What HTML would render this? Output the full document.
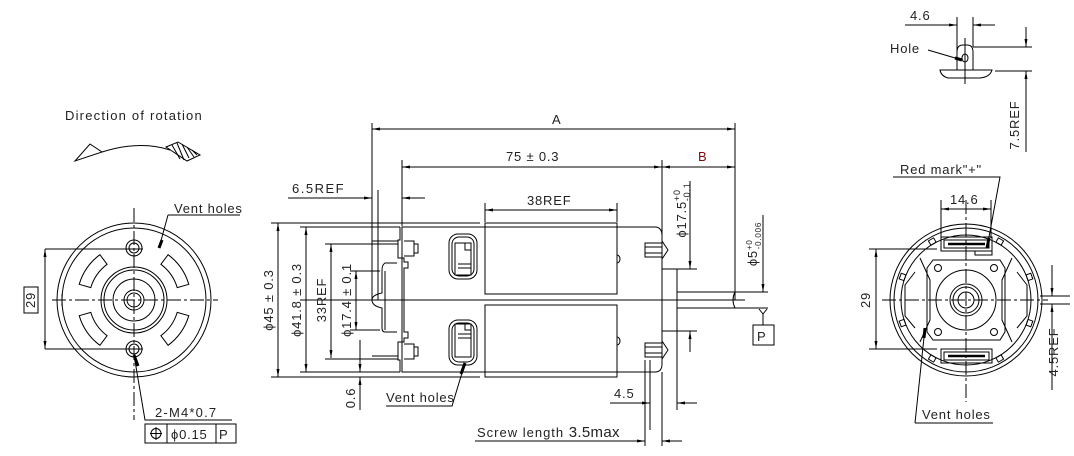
<!DOCTYPE html>
<html><head><meta charset="utf-8"><style>
html,body{margin:0;padding:0;background:#fff;}
svg{display:block;}
text{font-family:"Liberation Sans",sans-serif;fill:#222;font-size:13px;letter-spacing:0.8px;}
</style></head><body>
<svg width="1074" height="456" viewBox="0 0 1074 456" xmlns="http://www.w3.org/2000/svg">
<defs>
<marker id="a" markerWidth="8" markerHeight="4" refX="8" refY="2" orient="auto" markerUnits="userSpaceOnUse"><path d="M0,0.5 L8,2 L0,3.5Z" fill="#000"/></marker>
<marker id="b" markerWidth="8" markerHeight="4" refX="0" refY="2" orient="auto" markerUnits="userSpaceOnUse"><path d="M8,0.5 L0,2 L8,3.5Z" fill="#000"/></marker>
</defs>
<g stroke="#000" stroke-width="1" fill="none">
<path d="M75,161 L90,144 L102,152 Z"/>
<path d="M102,152 Q140,140 170,150"/>
<path d="M166,147 L178,142 L200,155 L187,161 Z"/>
<path d="M172,145 L180,159 M177,143 L184,160 M182,144 L189,158 M187,147 L194,157 M192,150 L197,155"/>

<circle cx="134" cy="300" r="77"/>
<circle cx="134" cy="300" r="72"/>
<circle cx="134" cy="300" r="33"/>
<circle cx="134" cy="300" r="30"/>
<circle cx="134" cy="300" r="21"/>
<circle cx="134" cy="300" r="10"/>
<circle cx="134" cy="300" r="7"/>
<circle cx="134" cy="248" r="8"/><circle cx="134" cy="248" r="5"/>
<circle cx="134" cy="349" r="8"/><circle cx="134" cy="349" r="5"/>
<g transform="translate(134,300)">
<path id="slot" d="M26.9,-35.7 A45,45 0 0 1 43.2,-12.4 L54.8,-15.7 A57,57 0 0 0 34.1,-45.3 Z"/>
<use href="#slot" transform="scale(-1,1)"/>
<use href="#slot" transform="scale(1,-1)"/>
<use href="#slot" transform="scale(-1,-1)"/>
</g>
<path d="M134,208 V420 M52,300 H218" stroke-dasharray="14,3,3,3"/>
<path d="M62,294 V306" />
<path d="M45,249 H143 M45,349 H143"/>
<path d="M45,249 V349" marker-start="url(#b)" marker-end="url(#a)"/>
<rect x="24" y="287" width="14" height="26"/>
<path d="M134,355 L145,420 H232"/>
<path d="M134,355 L138,366" stroke-width="3"/>
<rect x="145" y="424" width="91" height="19"/>
<path d="M167,424 V443 M216,424 V443"/>
<circle cx="156" cy="433.5" r="5"/><path d="M150,433.5 H162 M156,427 V440"/>
<path d="M168,215 H240 M168,215 L159,248"/>
<path d="M159,248 L162,240" stroke-width="3"/>

<path d="M372,123 V300 M735,123 V300 M402,160 V226 M662,160 V240 M378,190 V300"/>
<path d="M372,129 H735" marker-start="url(#b)" marker-end="url(#a)"/>
<path d="M402,167 H662" marker-start="url(#b)" marker-end="url(#a)"/>
<path d="M662,167 H735" marker-start="url(#b)" marker-end="url(#a)"/>
<path d="M288,198 H372" marker-end="url(#a)"/>
<path d="M425,198 H402" marker-end="url(#a)"/>
<path d="M485,203 V222 M617,203 V222"/>
<path d="M485,210 H617" marker-start="url(#b)" marker-end="url(#a)"/>
<path d="M271,223 H480 M271,377 H480 M300,227 H400 M300,372 H400 M325,244 H398 M325,359 H398 M350,271 H380 M350,330 H380"/>
<path d="M278,223 V377" marker-start="url(#b)" marker-end="url(#a)"/>
<path d="M306,227 V372" marker-start="url(#b)" marker-end="url(#a)"/>
<path d="M331,244 V358" marker-start="url(#b)" marker-end="url(#a)"/>
<path d="M356,271 V330" marker-start="url(#b)" marker-end="url(#a)"/>
<path d="M360,340 V372" marker-end="url(#a)"/>
<path d="M360,410 V377" marker-end="url(#a)"/>
<path d="M402,227 H655 Q662,227 662,236 V364 Q662,372 655,372 H402 Z"/>
<rect x="485" y="223" width="132" height="71"/>
<rect x="485" y="305" width="132" height="72"/>
<path d="M617,255 a3,4 0 0 1 0,8 M617,337 a3,4 0 0 1 0,8"/>
<path d="M400,227 V240 H398 V258 H404 V262 H408 V268 H404 V332 H408 V338 H404 V342 H398 V360 H400 V372"/>
<path d="M404,241 H414 V256 H404 M404,344 H414 V359 H404"/>
<path d="M414,244 H418 V253 H414 M414,347 H418 V356 H414"/>
<path d="M372,241 H398 M372,359 H398 M372,244 H398 M372,356 H398"/>
<path d="M397,263 H385 Q382,265 382,270 V293 Q372,295 372,300 Q372,306 382,308 V328 Q382,332 385,332 H397"/>
<path d="M385,271 V330"/>
<rect x="449" y="234" width="28" height="45" rx="9"/>
<rect x="452" y="237" width="22" height="39" rx="7"/>
<path d="M455,243 H471 V275 H455 Z M465,243 V250 H471 M458,264 H471 M458,268 H471"/>
<rect x="449" y="320" width="28" height="45" rx="9"/>
<rect x="452" y="323" width="22" height="39" rx="7"/>
<path d="M455,324 H471 V357 H455 Z M465,324 V330 H471 M458,334 H471 M458,338 H471"/>
<path d="M645,243 H662 V257 H645 Z M645,247 H662 M645,253 H662 M662,241 L668,250 L662,259"/>
<path d="M645,343 H662 V357 H645 Z M645,347 H662 M645,353 H662 M662,341 L668,350 L662,359"/>
<path d="M662,269 H690 M662,331 H690 M677,269 V331"/>
<path d="M677,292 H735 Q731,300 735,308 H677"/>
<path d="M735,292 H768 M735,308 H768"/>
<path d="M300,300 H745"/>
<path d="M662,269 H697 M662,331 H697"/>
<path d="M690,181 V269" marker-end="url(#a)"/>
<path d="M690,352 V331" marker-end="url(#a)"/>
<path d="M763,215 V292" marker-end="url(#a)"/>
<path d="M759,309 L763,314 L767,309 M763,314 V325"/>
<rect x="753" y="325" width="21" height="20"/>
<path d="M650,360 V430 M677,331 V410"/>
<path d="M610,403 H650" marker-end="url(#a)"/>
<path d="M697,403 H677" marker-end="url(#a)"/>
<path d="M645,360 V446 M662,372 V446"/>
<path d="M475,441 H645" marker-end="url(#a)"/>
<path d="M682,441 H662" marker-end="url(#a)"/>
<path d="M386,406 H452 L465,363"/>
<path d="M465,363 L461,374" stroke-width="3"/>

<circle cx="966" cy="300" r="76"/>
<circle cx="966" cy="300" r="72"/>
<circle cx="966" cy="300" r="65"/>
<circle cx="966" cy="300" r="30"/>
<circle cx="966" cy="300" r="16"/>
<circle cx="966" cy="300" r="13"/>
<circle cx="966" cy="300" r="8"/>
<path d="M933,260 H1000 L1005,268 V332 L1000,340 H933 L927,332 V268 Z"/>
<path d="M920,258 L930,280 V320 L920,342 M1012,258 L1002,280 V320 L1012,342"/>
<path d="M915,272 L905,285 V316 L915,328 M1017,272 L1027,285 V316 L1017,328"/>
<circle cx="938" cy="268" r="3.5"/><circle cx="994" cy="268" r="3.5"/>
<circle cx="938" cy="332" r="3.5"/><circle cx="994" cy="332" r="3.5"/>
<rect x="941" y="237" width="51" height="14"/>
<rect x="944" y="240" width="45" height="8"/>
<path d="M948,244 H985" stroke-width="2.5"/>
<path d="M975,251 V255 H992 V251"/>
<rect x="941" y="349" width="51" height="14"/>
<rect x="944" y="352" width="45" height="8"/>
<path d="M948,356 H985" stroke-width="2.5"/>
<g transform="translate(966,300)">
<rect x="-3" y="-70" width="6" height="5" transform="rotate(-30)"/>
<rect x="-3" y="-70" width="6" height="5" transform="rotate(30)"/>
<rect x="-3" y="-70" width="6" height="5" transform="rotate(70)"/>
<rect x="-3" y="-70" width="6" height="5" transform="rotate(110)"/>
<rect x="-3" y="-70" width="6" height="5" transform="rotate(150)"/>
<rect x="-3" y="-70" width="6" height="5" transform="rotate(-150)"/>
<rect x="-3" y="-70" width="6" height="5" transform="rotate(-110)"/>
<rect x="-3" y="-70" width="6" height="5" transform="rotate(-70)"/>
</g>
<path d="M966,200 V402 M882,300 H1048" stroke-dasharray="14,3,3,3"/>
<path d="M1040,296 H1070 M1040,304 H1070"/>
<path d="M869,249 H937 M869,349 H937"/>
<path d="M876,249 V349" marker-start="url(#b)" marker-end="url(#a)"/>
<path d="M941,200 V238 M991,200 V238"/>
<path d="M941,209 H991" marker-start="url(#b)" marker-end="url(#a)"/>
<path d="M893,177 H1000 L987,248"/>
<path d="M987,248 L989,238" stroke-width="3"/>
<path d="M915,423 H993 M915,423 L925,328"/>
<path d="M925,328 L924,338" stroke-width="3"/>
<path d="M1052,265 V296" marker-end="url(#a)"/>
<path d="M1052,390 V304" marker-end="url(#a)"/>

<path d="M957,17 V70 M973,17 V47"/>
<path d="M905,25 H957" marker-end="url(#a)"/>
<path d="M995,25 H973" marker-end="url(#a)"/>
<path d="M957,70 V52 Q957,45 963,45 H967 Q973,45 973,52 V70"/>
<ellipse cx="965" cy="58" rx="3" ry="4"/>
<path d="M965,38 V84"/>
<path d="M940,70 H992 Q990,77 980,78 H948 Q941,76 940,70 Z"/>
<path d="M973,47 H1032 M995,71 H1032"/>
<path d="M1026,27 V47" marker-end="url(#a)"/>
<path d="M1026,152 V71" marker-end="url(#a)"/>
<path d="M928,50 L962,60"/>
<path d="M962,60 L955,58" stroke-width="3"/>
</g>

<text x="65" y="120" font-size="14" style="letter-spacing:1.2px">Direction of rotation</text>
<text x="174" y="213" font-size="13">Vent holes</text>
<text x="36" y="300" font-size="13" transform="rotate(-90 36 300)" text-anchor="middle" dy="-1">29</text>
<text x="155" y="417" font-size="15" style="letter-spacing:1.2px">2-M4*0.7</text>
<text x="171" y="439" font-size="14">ϕ0.15</text>
<text x="219" y="439" font-size="14">P</text>

<text x="552" y="124" font-size="14">A</text>
<text x="506" y="161" font-size="15">75 ± 0.3</text>
<text x="698" y="161" font-size="14" style="fill:#7a0d0d">B</text>
<text x="292" y="193" font-size="16" style="letter-spacing:1.5px">6.5REF</text>
<text x="527" y="205" font-size="14">38REF</text>
<text x="273" y="300" font-size="14" transform="rotate(-90 273 300)" text-anchor="middle">ϕ45 ± 0.3</text>
<text x="301" y="300" font-size="14" transform="rotate(-90 301 300)" text-anchor="middle">ϕ41.8 ± 0.3</text>
<text x="326" y="300" font-size="14" transform="rotate(-90 326 300)" text-anchor="middle">33REF</text>
<text x="351" y="300" font-size="14" transform="rotate(-90 351 300)" text-anchor="middle">ϕ17.4 ± 0.1</text>
<text x="355" y="398" font-size="13" transform="rotate(-90 355 398)" text-anchor="middle">0.6</text>
<text x="686" y="210" font-size="14" transform="rotate(-90 686 210)" text-anchor="middle">ϕ17.5<tspan font-size="9" dy="-6">+0</tspan><tspan font-size="9" dx="-12" dy="10">-0.1</tspan></text>
<text x="757" y="244" font-size="13" transform="rotate(-90 757 244)" text-anchor="middle">ϕ5<tspan font-size="8" dy="-5">+0</tspan><tspan font-size="8" dx="-10" dy="9">-0.006</tspan></text>
<text x="757" y="341" font-size="15">P</text>
<text x="614" y="398" font-size="14">4.5</text>
<text x="386" y="402" font-size="14">Vent holes</text>
<text x="477" y="437" font-size="16" style="letter-spacing:1px">Screw length <tspan font-size="15" style="letter-spacing:0.3px">3.5max</tspan></text>

<text x="910" y="20" font-size="13">4.6</text>
<text x="890" y="53" font-size="14">Hole</text>
<text x="1019" y="125" font-size="14" transform="rotate(-90 1019 125)" text-anchor="middle">7.5REF</text>
<text x="900" y="174" font-size="14">Red mark"+"</text>
<text x="950" y="204" font-size="14">14.6</text>
<text x="870" y="300" font-size="13" transform="rotate(-90 870 300)" text-anchor="middle">29</text>
<text x="1058" y="352" font-size="14" transform="rotate(-90 1058 352)" text-anchor="middle">4.5REF</text>
<text x="922" y="419" font-size="14">Vent holes</text>
</svg>
</body></html>
